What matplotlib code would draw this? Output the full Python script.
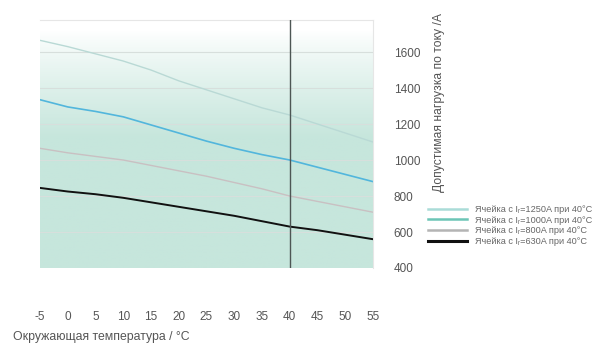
import matplotlib

matplotlib.use("Agg")

import matplotlib.pyplot as plt
import numpy as np
from matplotlib.colors import LinearSegmentedColormap
from matplotlib.lines import Line2D

temps = [-5, 0, 5, 10, 15, 20, 25, 30, 35, 40, 45, 50, 55]
load_1250 = [1665, 1630, 1590, 1550, 1500, 1440, 1390, 1340, 1290, 1250, 1200, 1150, 1100]
load_1000 = [1335, 1295, 1270, 1240, 1195, 1150, 1105, 1065, 1030, 1000, 960, 920, 880]
load_800 = [1065, 1040, 1020, 1000, 970, 940, 910, 875, 840, 800, 770, 740, 710]
load_630 = [845, 825, 810, 790, 765, 740, 715, 690, 660, 630, 610, 585, 560]
yticks = [400, 600, 800, 1000, 1200, 1400, 1600]
labels = ["Ячейка с Iᵣ=1250A при 40°C", "Ячейка с Iᵣ=1000A при 40°C",
          "Ячейка с Iᵣ=800A при 40°C", "Ячейка с Iᵣ=630A при 40°C"]

plt.rcParams["font.family"] = ["Liberation Sans", "DejaVu Sans"]

ymin, ymax = 400, 1778

fig = plt.figure(figsize=(5.95, 3.45), dpi=100)
ax = fig.add_axes([40 / 595, 1 - 268 / 345, 333 / 595, 248 / 345])

# background gradient, white at top to pale teal
yy = np.linspace(ymax, ymin, 200)
g = np.clip((1720 - yy) / 600, 0, 1) ** 0.85
cmap = LinearSegmentedColormap.from_list("bg", ["#ffffff", "#c6e6dc"])
ax.imshow(g[:, None], extent=[-5, 55, ymin, ymax], aspect="auto", cmap=cmap,
          vmin=0, vmax=1, zorder=0)

for y in yticks[1:]:
    ax.axhline(y, color="#d7dfdc", lw=0.8, zorder=1)

ax.plot(temps, load_1250, color="#b9d9d5", lw=1.0, zorder=2)
ax.plot(temps, load_1000, color="#52b6dc", lw=1.2, zorder=2)
ax.plot(temps, load_800, color="#c9c0c2", lw=1.0, zorder=2)
ax.plot(temps, load_630, color="#111111", lw=1.4, zorder=3)
ax.axvline(40, color="#4d5654", lw=1.0, zorder=4)

ax.set_xlim(-5, 55)
ax.set_ylim(ymin, ymax)
ax.set_xticks(temps)
ax.set_xticklabels([str(t) for t in temps])
ax.set_yticks(yticks)
ax.yaxis.tick_right()
ax.tick_params(axis="both", length=0, labelsize=8.5, labelcolor="#555555")
ax.tick_params(axis="x", pad=31)
ax.tick_params(axis="y", pad=15)
for s in ax.spines.values():
    s.set_color("#e6e6e6")
    s.set_linewidth(0.8)
ax.spines["left"].set_visible(False)
ax.spines["bottom"].set_visible(False)

fig.text(439 / 595, 1 - 103 / 345, "Допустимая нагрузка по току /A", rotation=90,
         ha="center", va="center", fontsize=8.7, color="#555555")
fig.text(13 / 595, 1 - 337 / 345, "Окружающая температура / °C",
         ha="left", va="center", fontsize=8.8, color="#555555")

handles = [Line2D([], [], color="#aadcd8", lw=1.8),
           Line2D([], [], color="#6cc5b6", lw=1.8),
           Line2D([], [], color="#b4b4b4", lw=1.8),
           Line2D([], [], color="#111111", lw=2.2)]
fig.legend(handles, labels, loc="upper left", bbox_to_anchor=(428 / 595, 1 - 205 / 345),
           frameon=False, fontsize=6.6, labelcolor="#666666", handlelength=4.2,
           handletextpad=0.95, labelspacing=0.18, borderpad=0, borderaxespad=0)

fig.savefig("out.png", dpi=100)
plt.close()
